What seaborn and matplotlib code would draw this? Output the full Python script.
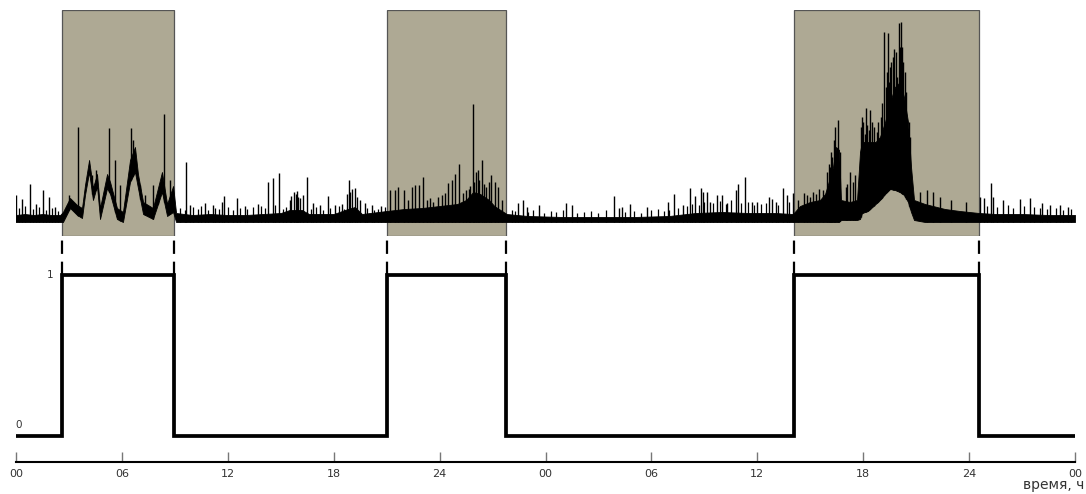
import numpy as np
import pandas as pd
import matplotlib
matplotlib.use("Agg")
import matplotlib.pyplot as plt
import seaborn as sns

# ---------------- data (hours on x, arbitrary amplitude on y) ----------------
tick_hours = [0, 6, 12, 18, 24, 30, 36, 42, 48, 54, 60]
tick_labels = ["00", "06", "12", "18", "24", "00", "06", "12", "18", "24", "00"]

# periods of activity (state = 1)
on_start = [2.6, 21.0, 44.08]
on_end = [8.95, 27.75, 54.56]

# dense body of the signal: lower and upper envelope
trace_h = [0.00, 0.5, 1.0, 1.5, 2.0, 2.5, 2.66, 3.06, 3.46, 3.74, 3.91, 4.14, 4.36, 4.59,
           4.76, 5.16, 5.33, 5.72, 6.06, 6.46, 6.74, 6.91, 7.20, 7.76, 8.27, 8.56, 8.90,
           9.07, 10.0, 11.0, 12.0, 13.0, 14.0, 15.0, 15.5, 16.2, 16.6, 18.0, 18.8, 19.2,
           19.6, 21.0, 22.0, 23.0, 24.0, 25.0, 25.5, 25.9, 26.3, 26.8, 27.1, 27.8, 29.0,
           31.0, 33.0, 35.0, 37.0, 38.5, 40.0, 41.5, 43.0, 44.02, 44.42, 44.99, 45.55,
           45.84, 46.01, 46.29, 46.46, 46.63, 46.74, 47.25, 47.65, 47.82, 47.93, 48.27,
           48.70, 48.95, 49.24, 49.52, 49.80, 50.08, 50.31, 50.54, 50.71, 50.88, 51.50,
           52.63, 53.48, 54.56, 55.5, 57.0, 58.5, 60.0]
trace_lo = [0, 0, 0, 0, 0, 0, 0, 14, 7, 4, 27, 50, 22, 36,
            3, 34, 28, 3, 0, 40, 50, 34, 8, 3, 30, 6, 10,
            0, 0, 0, 0, 0, 0, 0, 0, 0, 0, 0, 0, 0,
            0, 0, 0, 0, 0, 0, 0, 0, 0, 0, 0, 0, 0,
            0, 0, 0, 0, 0, 0, 0, 0, 0, 0, 0, 0,
            0, 0, 0, 0, 0, 2, 2, 2, 3, 9, 11,
            18, 22, 28, 33, 32, 30, 27, 20, 10, 2, 0,
            0, 0, 0, 0, 0, 0, 0]
trace_hi = [7, 8, 7, 8, 7, 7, 10, 24, 17, 14, 37, 62, 34, 48,
            14, 48, 40, 14, 10, 62, 75, 48, 20, 14, 50, 18, 36,
            9, 7, 8, 7, 7, 8, 9, 12, 12, 8, 8, 13, 15,
            8, 11, 13, 14, 16, 18, 22, 30, 28, 22, 16, 8, 6,
            5, 5, 5, 6, 9, 10, 9, 9, 8, 16, 20, 22,
            28, 38, 55, 75, 72, 22, 20, 22, 70, 80, 80,
            80, 85, 100, 120, 135, 140, 125, 100, 55, 22, 18,
            13, 11, 9, 8, 8, 7, 7]

# individual spikes (peak amplitude)
spike_h = [0.00, 0.34, 0.79, 1.13, 1.53, 1.87, 2.21,
           3.00, 3.51, 4.31, 4.53, 5.27, 5.61, 5.89, 6.52, 6.63, 7.03, 7.31, 7.76, 8.05,
           8.39, 8.73, 9.63, 9.86, 10.71, 11.16, 11.67, 11.78, 12.52, 12.97, 13.71, 14.28,
           14.56, 14.90, 15.52, 15.6, 15.75, 15.85, 15.92, 16.0, 16.1, 16.26, 16.49, 16.83,
           17.22, 17.68, 18.07, 18.47, 18.75, 18.87, 18.95, 19.05, 19.21, 19.3, 19.49,
           19.77, 20.17, 20.68,
           21.19, 21.47, 21.64, 21.98, 22.21, 22.44, 22.61, 22.83, 23.06, 23.29, 23.46,
           23.63, 23.91, 24.14, 24.31, 24.48, 24.70, 24.87, 25.10, 25.33, 25.50, 25.67,
           25.75, 25.89, 25.95, 26.06, 26.18, 26.25, 26.40, 26.5, 26.63, 26.80, 26.91,
           27.14, 27.31, 27.54,
           28.44, 28.73, 28.95, 29.63, 31.16, 31.50, 33.88, 34.16, 34.33, 34.79, 35.75,
           36.94, 37.28, 37.79, 38.19, 38.47, 38.81, 38.92, 39.15, 39.32, 39.72, 40.00,
           40.28, 40.79, 40.91, 41.30, 41.70, 41.98, 42.66, 42.83, 43.06, 43.46, 43.68,
           44.02, 44.3, 44.65, 44.8, 44.99, 45.16, 45.3, 45.5, 45.72, 45.95, 46.05, 46.12,
           46.2, 46.21, 46.32, 46.40, 46.57, 46.7, 47.0, 47.1, 47.25, 47.4, 47.54, 47.85,
           47.93, 48.0, 48.1, 48.16, 48.22, 48.33, 48.39, 48.5, 48.6, 48.78, 48.85, 49.0,
           49.07, 49.18, 49.3, 49.35, 49.41, 49.45, 49.52, 49.6, 49.68, 49.75, 49.85,
           49.92, 50.03, 50.1, 50.14, 50.20, 50.25, 50.37, 50.45, 50.6, 50.65,
           51.22, 51.61, 51.95, 52.35, 53.0, 53.8,
           54.62, 54.84, 55.24, 55.35, 55.92, 56.88, 57.45, 58.13, 58.58, 59.15, 59.60]
spike_a = [27, 23, 38, 18, 32, 25, 15,
           27, 95, 47, 52, 94, 62, 37, 94, 82, 37, 27, 37, 25,
           108, 42, 60, 17, 19, 17, 20, 26, 24, 16, 18, 40,
           44, 49, 22, 26, 30, 28, 31, 25, 24, 27, 45, 19,
           17, 26, 17, 18, 28, 42, 30, 33, 34, 25, 22,
           19, 17, 16,
           32, 32, 35, 32, 22, 35, 37, 37, 45, 22, 24,
           20, 25, 27, 29, 39, 42, 48, 58, 29, 32, 33,
           36, 118, 40, 50, 52, 42, 62, 38, 35, 40, 47,
           40, 35, 22,
           19, 22, 15, 17, 19, 17, 26, 14, 15, 18, 15,
           20, 28, 17, 34, 26, 34, 30, 30, 20, 27, 27,
           19, 32, 38, 45, 20, 20, 25, 23, 20, 34, 27,
           29, 22, 29, 27, 25, 30, 28, 33, 32, 50, 58, 55,
           70, 65, 82, 95, 102, 70, 35, 38, 50, 40, 47, 95,
           105, 100, 88, 114, 97, 92, 112, 100, 95, 90, 100, 105,
           119, 190, 135, 150, 189, 140, 155, 160, 165, 173, 170,
           145, 199, 175, 200, 175, 160, 150, 130, 100, 85,
           30, 32, 30, 25, 22, 20,
           25, 24, 39, 25, 22, 23, 24, 19, 17, 17, 15]

# small spikes riding on the quiet baseline
minor_h = [0.15, 0.5, 0.95, 1.3, 1.7, 2.05, 2.4,
           9.3, 9.6, 10.0, 10.3, 10.5, 10.9, 11.3, 11.5, 12.0, 12.3, 12.7, 13.1, 13.4,
           13.9, 14.1, 14.7, 15.1, 15.3, 16.7, 17.0, 17.4, 17.8, 18.3, 18.6, 19.9, 20.3,
           20.5, 20.9,
           28.1, 28.3, 29.0, 29.3, 29.9, 30.3, 30.6, 31.0, 31.8, 32.2, 32.6, 33.0, 33.4,
           34.5, 35.0, 35.4, 36.0, 36.4, 36.7, 37.0, 37.5, 38.0, 38.3, 38.7, 39.0, 39.5,
           39.9, 40.2, 40.5, 41.1, 41.5, 41.8, 42.2, 42.5, 43.2, 43.8,
           55.0, 55.6, 56.2, 56.5, 57.1, 57.7, 58.0, 58.4, 58.9, 59.3, 59.8]
minor_a = [14, 16, 13, 15, 12, 14, 11,
           14, 12, 15, 13, 16, 12, 14, 13, 15, 12, 14, 13, 15,
           16, 14, 17, 13, 15, 13, 15, 12, 14, 16, 13, 14, 12,
           13, 15,
           12, 11, 10, 12, 9, 11, 10, 12, 9, 10, 11, 9, 12,
           10, 11, 9, 12, 13, 11, 12, 14, 16, 18, 17, 20, 19,
           21, 18, 22, 19, 20, 17, 18, 19, 17, 20,
           16, 15, 17, 14, 16, 15, 14, 13, 14, 12, 13]

# ---------------- layout helpers ----------------
W, H = 1086, 494
sns.set_theme(style="white")
plt.rcParams["font.family"] = ["DejaVu Sans"]

fig = plt.figure(figsize=(W / 100, H / 100), dpi=100)


def px_axes(left, top, right, bottom):
    return fig.add_axes([left / W, 1 - bottom / H, (right - left) / W, (bottom - top) / H])


X0, X1 = 0, 60

# ---------------- top panel: signal ----------------
ax_sig = px_axes(16, 10, 1075, 236)
ax_sig.set_xlim(X0, X1)
ax_sig.set_ylim(-14, 212)
ax_sig.axis("off")
for s, e in zip(on_start, on_end):
    ax_sig.axvspan(s, e, ymin=0, ymax=1, facecolor="#aea994", edgecolor="#555555",
                   lw=0.9, zorder=0)

th = np.array(trace_h)
ax_sig.fill_between(th, trace_lo, trace_hi, color="black", lw=0.6, zorder=2)
sh = np.array(spike_h)
ax_sig.vlines(sh, np.interp(sh, th, trace_lo), spike_a, color="black", lw=1.0, zorder=3)
mh = np.array(minor_h)
ax_sig.vlines(mh, np.interp(mh, th, trace_lo), minor_a, color="black", lw=0.9, zorder=3)

# ---------------- bottom panel: state ----------------
ax_step = px_axes(16, 236, 1075, 462)
ax_step.set_xlim(X0, X1)
ax_step.set_ylim((436 - 462) / 161, (436 - 236) / 161)

step_x = [X0]
step_y = [0]
for s, e in zip(on_start, on_end):
    step_x += [s, e]
    step_y += [1, 0]
step_x.append(X1)
step_y.append(0)
df_step = pd.DataFrame({"t": step_x, "state": step_y})
sns.lineplot(data=df_step, x="t", y="state", drawstyle="steps-post", color="black",
             lw=2.7, ax=ax_step, solid_joinstyle="miter")

edges = on_start + on_end
ax_step.vlines(edges, 1.0, (436 - 236) / 161, color="black", lw=1.6,
               linestyles=(0, (6, 3.5)), clip_on=False)

ax_step.text(1.93, 1.0, "1", ha="center", va="center", fontsize=7.5, color="#333333")
ax_step.text(0.17, 0.07, "0", ha="center", va="center", fontsize=7.5, color="#333333")

for side in ["top", "right", "left"]:
    ax_step.spines[side].set_visible(False)
ax_step.spines["bottom"].set_linewidth(1.5)
ax_step.spines["bottom"].set_color("black")
ax_step.set_xticks(tick_hours)
ax_step.set_xticklabels(tick_labels)
ax_step.set_yticks([])
ax_step.set_xlabel("")
ax_step.set_ylabel("")
ax_step.tick_params(axis="x", direction="in", length=7, width=1, color="#777777",
                    labelsize=8, labelcolor="#333333", pad=5, bottom=True)
ax_step.grid(False)

fig.text(1084 / W, 1 - 485 / H, "время, ч", ha="right", va="center", fontsize=10,
         color="#333333")

fig.savefig("out.png", dpi=100, facecolor="white")
